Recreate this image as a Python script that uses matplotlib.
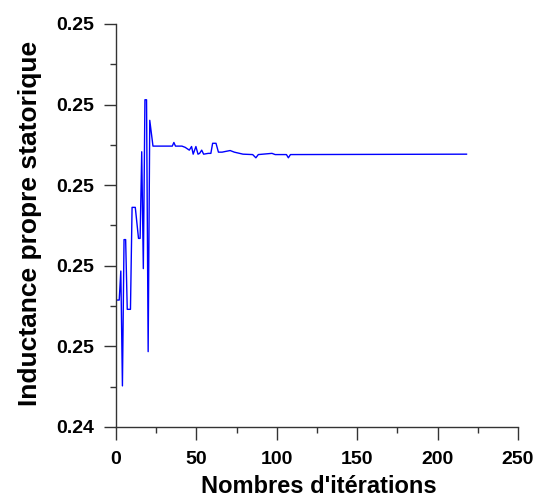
import matplotlib
matplotlib.use("Agg")
import matplotlib.pyplot as plt
from matplotlib.ticker import MultipleLocator, FormatStrFormatter

# iteration number and stator self inductance
iterations = [1, 2, 3, 4, 5, 6, 7, 9, 10, 12, 14, 15, 16, 17, 18, 19, 20, 21,
              23, 35, 36, 37, 41, 43, 45.6, 47, 48, 49.7, 51, 52, 53.3, 54.5,
              57.4, 59, 60.1, 62.2, 63.7, 66, 68.4, 71, 73.6, 79, 85, 87, 88.5,
              97, 99, 106, 107.2, 108.5, 218]
inductance = [0.24715, 0.24715, 0.24787, 0.24502, 0.24865, 0.24865, 0.24692,
              0.24692, 0.24945, 0.24945, 0.24868, 0.24868, 0.25083, 0.24793,
              0.25212, 0.25212, 0.24587, 0.25161, 0.25097, 0.25097, 0.25106,
              0.25097, 0.25097, 0.25094, 0.25087, 0.25096, 0.25077, 0.25096,
              0.25077, 0.25079, 0.25087, 0.25077, 0.25079, 0.25079, 0.25104,
              0.25104, 0.25082, 0.25082, 0.25084, 0.25086, 0.25082, 0.25077,
              0.25076, 0.25068, 0.25076, 0.25079, 0.25076, 0.25076, 0.25068,
              0.25076, 0.25077]

x_ticks = [0, 50, 100, 150, 200, 250]
y_ticks = [0.244, 0.246, 0.248, 0.250, 0.252, 0.254]

plt.rcParams['font.family'] = ['Liberation Sans', 'DejaVu Sans']
plt.rcParams['font.weight'] = 'bold'

fig = plt.figure(figsize=(5.39, 5.0), dpi=100)
ax = fig.add_axes([0.2152, 0.146, 0.7458, 0.806])

ax.plot(iterations, inductance, color='#0000ff', linewidth=1.0)

ax.set_xlim(0, 250)
ax.set_ylim(0.244, 0.254)
ax.set_xticks(x_ticks)
ax.set_yticks(y_ticks)
ax.xaxis.set_minor_locator(MultipleLocator(25))
ax.yaxis.set_minor_locator(MultipleLocator(0.001))
ax.yaxis.set_major_formatter(FormatStrFormatter('%.2f'))

for side in ['top', 'right']:
    ax.spines[side].set_visible(False)
for side in ['left', 'bottom']:
    ax.spines[side].set_color('#333333')
    ax.spines[side].set_linewidth(1.0)

ax.tick_params(which='major', length=9, width=1, color='#333333',
               labelsize=14, pad=7)
ax.tick_params(axis='x', which='major', pad=8)
ax.tick_params(which='minor', length=4, width=1, color='#333333')
for lab in ax.get_xticklabels() + ax.get_yticklabels():
    lab.set_fontweight('bold')

ax.set_xlabel("Nombres d'itérations", fontsize=17, fontweight='bold')
ax.set_ylabel('Inductance propre statorique', fontsize=19, fontweight='bold')
ax.xaxis.set_label_coords(0.504, -0.12)
ax.yaxis.set_label_coords(-0.184, 0.504)

fig.savefig('out.png', dpi=100)
